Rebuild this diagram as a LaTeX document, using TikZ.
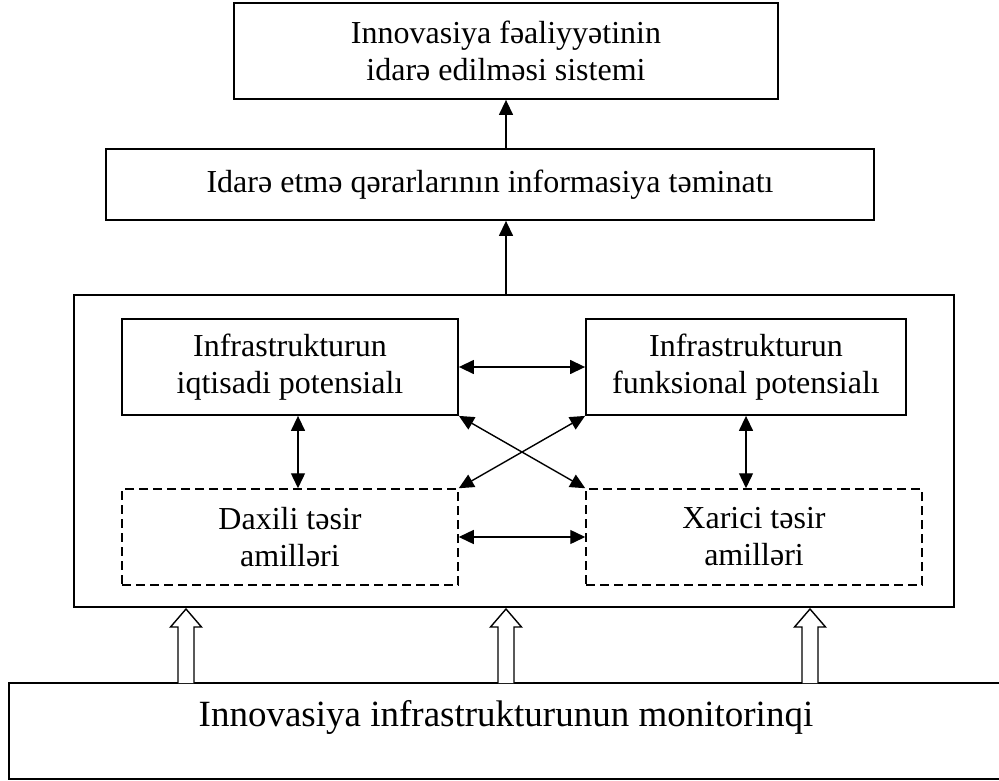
\documentclass[tikz,border=0pt]{standalone}
\usepackage{fontspec}
\setmainfont{Liberation Serif}
\usetikzlibrary{arrows.meta}
\tikzset{
  box/.style={draw, line width=1.8bp, inner sep=0pt, align=center, font=\fontsize{32bp}{37bp}\selectfont},
  dbox/.style={draw, line width=1.5bp, dash pattern=on 9bp off 5bp, inner sep=0pt, align=center, font=\fontsize{32bp}{37bp}\selectfont},
  tip/.tip={Triangle[length=15bp,width=14bp]},
  arr/.style={line width=1.4bp, -tip},
  darr/.style={line width=1.4bp, tip-tip},
  hollow/.style={draw, fill=white, line width=1.4bp, line join=miter}
}
\begin{document}
\begin{tikzpicture}[x=1bp,y=-1bp]
\useasboundingbox (0,0) rectangle (999,781);
\node[box, minimum width=544bp, minimum height=96bp] (top) at (506,51) {Innovasiya fəaliyyətinin\\idarə edilməsi sistemi};
\node[box, minimum width=768bp, minimum height=71bp] (mid) at (490,184.5) {Idarə etmə qərarlarının informasiya təminatı};
\node[box, minimum width=880bp, minimum height=312bp] (big) at (514,451) {};
\node[box, minimum width=336bp, minimum height=96bp] (ip) at (290,367) {Infrastrukturun\\iqtisadi potensialı};
\node[box, minimum width=320bp, minimum height=96bp] (fp) at (746,367) {Infrastrukturun\\funksional potensialı};
\node[dbox, minimum width=336bp, minimum height=96bp] (id) at (290,537) {Daxili təsir\\amilləri};
\node[dbox, minimum width=336bp, minimum height=96bp] (xd) at (754,537) {Xarici təsir\\amilləri};
\node[box, minimum width=994bp, minimum height=96bp] (mon) at (506,731) {};
\node[font=\fontsize{37bp}{42bp}\selectfont, inner sep=0pt] (montext) at (506,717) {Innovasiya infrastrukturunun monitorinqi};

\draw[arr] (top.south |- mid.north) -- (top.south);
\draw[arr] (top.south |- big.north) -- (top.south |- mid.south);

\draw[darr] (ip.east) -- (fp.west);
\draw[darr] (id.east) -- (xd.west);
\draw[darr] ([xshift=8bp]ip.south) -- ([xshift=8bp]id.north);
\draw[darr] (fp.south) -- (fp.south |- xd.north);
\draw[darr] (ip.south east) -- (xd.north west);
\draw[darr] (fp.south west) -- (id.north east);

\foreach \xx in {186,506,810}{
  \draw[hollow] (\xx-8,683) -- (\xx-8,627) -- (\xx-15.5,627) -- (\xx,609) -- (\xx+15.5,627) -- (\xx+8,627) -- (\xx+8,683);
}
\end{tikzpicture}
\end{document}
